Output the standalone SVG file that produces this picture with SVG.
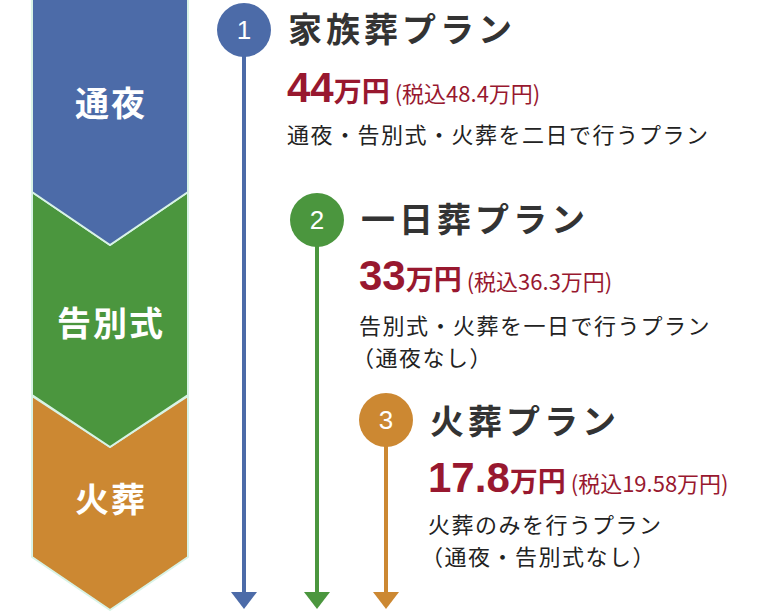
<svg xmlns="http://www.w3.org/2000/svg" width="758" height="616" viewBox="0 0 758 616">
<style>
.s{stroke:#d8f3e6;stroke-width:2;stroke-linejoin:round}
.lab{font-family:"Noto Sans CJK JP",sans-serif;font-weight:bold;font-size:34px;fill:#fff;text-anchor:middle;letter-spacing:2px}
.num{font-family:"Liberation Sans",sans-serif;font-size:26px;fill:#fff;text-anchor:middle}
.t{font-family:"Noto Sans CJK JP",sans-serif;font-weight:bold;font-size:34px;fill:#333;letter-spacing:4px}
.p{font-family:"Noto Sans CJK JP",sans-serif;font-weight:bold;fill:#98182f}
.d{font-family:"Noto Sans CJK JP",sans-serif;font-size:22px;fill:#222;letter-spacing:1.5px}
</style>
<g id="stage-fire"><path class="s" d="M32 396 L110 447 L188 396 L188 557 L110 610 L32 557 Z" fill="#cc8832"/><text class="lab" x="111" y="512">火葬</text></g>
<g id="stage-farewell"><path class="s" d="M32 192 L110 245 L188 192 L188 395 L110 447 L32 395 Z" fill="#4b963e"/><text class="lab" x="111" y="336">告別式</text></g>
<g id="stage-wake"><path class="s" d="M32 -2 L188 -2 L188 192 L110 245 L32 192 Z" fill="#4c6ba8"/><text class="lab" x="111" y="116">通夜</text></g>
<g id="connectors">
<line x1="244" y1="30" x2="244" y2="594" stroke="#4c6ba8" stroke-width="4"/><path d="M231 592 L257 592 L244 609 Z" fill="#4c6ba8"/>
<line x1="317" y1="220" x2="317" y2="594" stroke="#4b963e" stroke-width="4"/><path d="M304 592 L330 592 L317 609 Z" fill="#4b963e"/>
<line x1="386" y1="420" x2="386" y2="594" stroke="#cc8832" stroke-width="4"/><path d="M373 592 L399 592 L386 609 Z" fill="#cc8832"/>
</g>
<g id="plan1"><circle cx="244" cy="30" r="27" fill="#4c6ba8"/><text class="num" x="244" y="39">1</text>
<text class="t" x="288" y="42">家族葬プラン</text>
<text class="p" x="287" y="102"><tspan font-size="42" font-family="Liberation Sans">44</tspan><tspan font-size="28">万円</tspan><tspan font-size="22" font-weight="normal"> (税込48.4万円)</tspan></text>
<text class="d" x="287" y="143">通夜・告別式・火葬を二日で行うプラン</text></g>
<g id="plan2"><circle cx="317" cy="220" r="27" fill="#4b963e"/><text class="num" x="317" y="229">2</text>
<text class="t" x="361" y="232">一日葬プラン</text>
<text class="p" x="359" y="290"><tspan font-size="42" font-family="Liberation Sans">33</tspan><tspan font-size="28">万円</tspan><tspan font-size="22" font-weight="normal"> (税込36.3万円)</tspan></text>
<text class="d" x="359" y="334">告別式・火葬を一日で行うプラン</text>
<text class="d" x="352" y="366">（通夜なし）</text></g>
<g id="plan3"><circle cx="386" cy="420" r="27" fill="#cc8832"/><text class="num" x="386" y="429">3</text>
<text class="t" x="430" y="434">火葬プラン</text>
<text class="p" x="428" y="492"><tspan font-size="42" font-family="Liberation Sans">17.8</tspan><tspan font-size="28">万円</tspan><tspan font-size="22" font-weight="normal"> (税込19.58万円)</tspan></text>
<text class="d" x="428" y="533">火葬のみを行うプラン</text>
<text class="d" x="421" y="565">（通夜・告別式なし）</text></g>
</svg>
